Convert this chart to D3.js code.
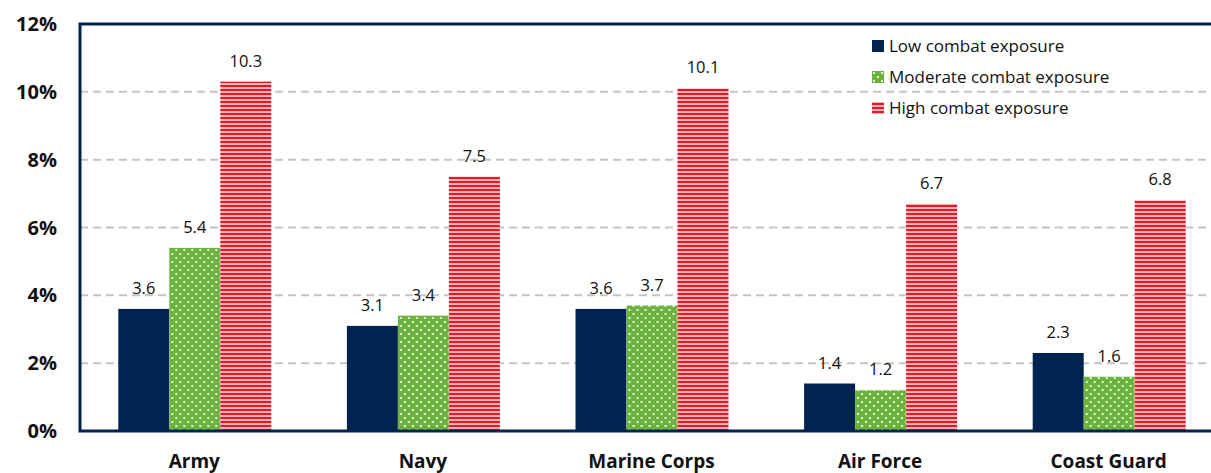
<!DOCTYPE html>
<html>
<head>
<meta charset="utf-8">
<script src="https://cdn.jsdelivr.net/npm/d3@7"></script>
<style>
  body { margin: 0; background: #fff; }
  svg { display: block; font-family: "Open Sans", "Noto Sans", sans-serif; }
</style>
</head>
<body>
<svg id="chart" width="1211" height="473"></svg>
<script>
// chart data
var branches = ["Army", "Navy", "Marine Corps", "Air Force", "Coast Guard"];
var seriesNames = ["Low combat exposure", "Moderate combat exposure", "High combat exposure"];
var lowValues = [3.6, 3.1, 3.6, 1.4, 2.3];
var moderateValues = [5.4, 3.4, 3.7, 1.2, 1.6];
var highValues = [10.3, 7.5, 10.1, 6.7, 6.8];
var yTicks = [0, 2, 4, 6, 8, 10, 12];

var svg = d3.select("#chart");
// plot box (right edge runs past the picture, as in the original)
var plotLeft = 80, plotTop = 24, plotBottom = 431, plotRight = 1223;

var defs = svg.append("defs");
// dotted green
var pg = defs.append("pattern").attr("id", "dots")
  .attr("patternUnits", "userSpaceOnUse").attr("width", 8).attr("height", 8);
pg.append("rect").attr("width", 8).attr("height", 8).attr("fill", "#6cb33e");
pg.append("rect").attr("x", 1).attr("y", 1).attr("width", 2).attr("height", 2).attr("fill", "#e4f2d8");
pg.append("rect").attr("x", 5).attr("y", 5).attr("width", 2).attr("height", 2).attr("fill", "#e4f2d8");
// striped red
var pr = defs.append("pattern").attr("id", "stripes")
  .attr("patternUnits", "userSpaceOnUse").attr("width", 8).attr("height", 4);
pr.append("rect").attr("width", 8).attr("height", 4).attr("fill", "#f4b3b7");
pr.append("rect").attr("y", 1).attr("width", 8).attr("height", 2).attr("fill", "#e01b27");

var fills = ["#00234f", "url(#dots)", "url(#stripes)"];

var x0 = d3.scaleBand().domain(branches).range([plotLeft, plotRight]);
var x1 = d3.scaleBand().domain(seriesNames).range([0, 153]);
var y = d3.scaleLinear().domain([0, 12]).range([plotBottom, plotTop]);

// grid
svg.append("g").selectAll("line").data(yTicks.filter(function (d) { return d > 0 && d < 12; }))
  .enter().append("line")
  .attr("x1", plotLeft).attr("x2", plotRight)
  .attr("y1", function (d) { return y(d); }).attr("y2", function (d) { return y(d); })
  .attr("stroke", "#c4c4c4").attr("stroke-width", 2).attr("stroke-dasharray", "8,5");

var table = branches.map(function (b, i) {
  return { branch: b, vals: [lowValues[i], moderateValues[i], highValues[i]] };
});

var groups = svg.append("g").selectAll("g").data(table).enter().append("g")
  .attr("transform", function (d) { return "translate(" + (x0(d.branch) + x0.bandwidth() / 2 - 76) + ",0)"; });

groups.selectAll("rect").data(function (d) {
  return d.vals.map(function (v, j) { return { s: seriesNames[j], v: v, j: j }; });
}).enter().append("rect")
  .attr("x", function (d) { return x1(d.s); })
  .attr("width", x1.bandwidth())
  .attr("y", function (d) { return y(d.v); })
  .attr("height", function (d) { return y(0) - y(d.v); })
  .attr("fill", function (d) { return fills[d.j]; });

groups.selectAll("text").data(function (d) {
  return d.vals.map(function (v, j) { return { s: seriesNames[j], v: v }; });
}).enter().append("text")
  .attr("x", function (d) { return x1(d.s) + x1.bandwidth() / 2; })
  .attr("y", function (d) { return y(d.v) - 15; })
  .attr("text-anchor", "middle").attr("font-size", 16.5).attr("fill", "#111")
  .text(function (d) { return d3.format(".1f")(d.v); });

// frame
svg.append("path")
  .attr("d", "M" + plotRight + "," + plotTop + "H" + plotLeft + "V" + plotBottom + "H" + plotRight)
  .attr("fill", "none").attr("stroke", "#00234f").attr("stroke-width", 3);

// y axis labels
svg.append("g").selectAll("text").data(yTicks).enter().append("text")
  .attr("x", 57).attr("y", function (d) { return y(d) + 7; })
  .attr("text-anchor", "end").attr("font-size", 20).attr("font-weight", "bold").attr("fill", "#111")
  .text(function (d) { return d + "%"; });

// x axis labels
svg.append("g").selectAll("text").data(branches).enter().append("text")
  .attr("x", function (d) { return x0(d) + x0.bandwidth() / 2; })
  .attr("y", 468)
  .attr("text-anchor", "middle").attr("font-size", 19).attr("font-weight", "bold").attr("fill", "#111")
  .text(function (d) { return d; });

// legend
var legend = svg.append("g").selectAll("g").data(seriesNames).enter().append("g")
  .attr("transform", function (d, i) { return "translate(872," + (40 + i * 31) + ")"; });
legend.append("rect").attr("width", 12).attr("height", 12)
  .attr("fill", function (d, i) { return fills[i]; });
legend.append("text").attr("x", 17).attr("y", 12).attr("font-size", 17).attr("fill", "#111")
  .text(function (d) { return d; });
</script>
</body>
</html>
